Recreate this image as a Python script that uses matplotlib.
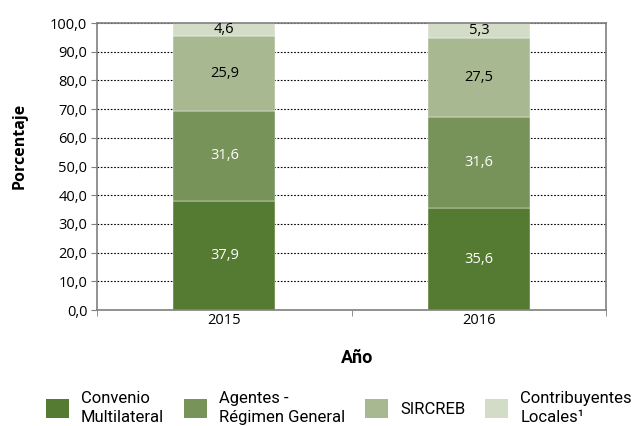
import matplotlib.pyplot as plt
from matplotlib.patches import Patch

years = ['2015', '2016']
series = ['Convenio\nMultilateral', 'Agentes -\nRégimen General', 'SIRCREB', 'Contribuyentes\nLocales¹']
convenio = [37.9, 35.6]
agentes = [31.6, 31.6]
sircreb = [25.9, 27.5]
locales = [4.6, 5.3]
yticks = [0, 10, 20, 30, 40, 50, 60, 70, 80, 90, 100]

colors = ['#557b32', '#77935a', '#a8b890', '#d3dcc6']
label_colors = ['white', 'white', 'black', 'black']

plt.rcParams['font.family'] = ['Open Sans', 'DejaVu Sans']

fig = plt.figure(figsize=(6.32, 4.26), dpi=100)
ax = fig.add_axes([0.1535, 0.272, 0.8055, 0.674])

x = range(len(years))
bottom = [0, 0]
for vals, col, lc in zip([convenio, agentes, sircreb, locales], colors, label_colors):
    bars = ax.bar(x, vals, width=0.4, bottom=bottom, color=col, zorder=2,
                  edgecolor='white', linewidth=0.3)
    ax.bar_label(bars, labels=[f'{v:.1f}'.replace('.', ',') for v in vals],
                 label_type='center', color=lc, fontsize=10.5)
    bottom = [b + v for b, v in zip(bottom, vals)]

ax.set_xlim(-0.5, 1.5)
ax.set_ylim(0, 100)
ax.set_yticks(yticks)
ax.set_yticklabels([f'{t:.1f}'.replace('.', ',') for t in yticks], fontsize=10.5)
ax.set_xticks(list(x))
ax.set_xticklabels(years, fontsize=10.5)
ax.set_xticks([-0.5, 0.5, 1.5], minor=True)
ax.tick_params(axis='x', which='major', length=0, pad=2)
ax.tick_params(axis='x', which='minor', length=4, direction='out', color='#7f7f7f')
ax.tick_params(axis='y', length=4, direction='out', color='#7f7f7f', pad=3)

ax.grid(axis='y', linestyle=(0, (1.5, 1.5)), color='black', linewidth=0.8, zorder=0)
for s in ax.spines.values():
    s.set_color('#7f7f7f')
    s.set_linewidth(1.2)

ax.set_ylabel('Porcentaje', fontsize=11.5, fontweight='bold')
ax.yaxis.set_label_coords(-0.136, 0.571)
ax.set_xlabel('Año', fontsize=13, fontweight='bold', family='Roboto')
ax.xaxis.set_label_coords(0.51, -0.137)

handles = [Patch(facecolor=c) for c in colors]
leg = fig.legend(handles, series, loc='center', bbox_to_anchor=(0.536, 0.042), ncol=4,
                 frameon=False, prop={'family': 'Roboto', 'size': 12},
                 handlelength=1.38, handleheight=1.38, handletextpad=0.72,
                 columnspacing=1.2, labelspacing=0, borderpad=0)
for t in leg.get_texts():
    t.set_linespacing(1.35)

fig.savefig('out.png', dpi=100)
